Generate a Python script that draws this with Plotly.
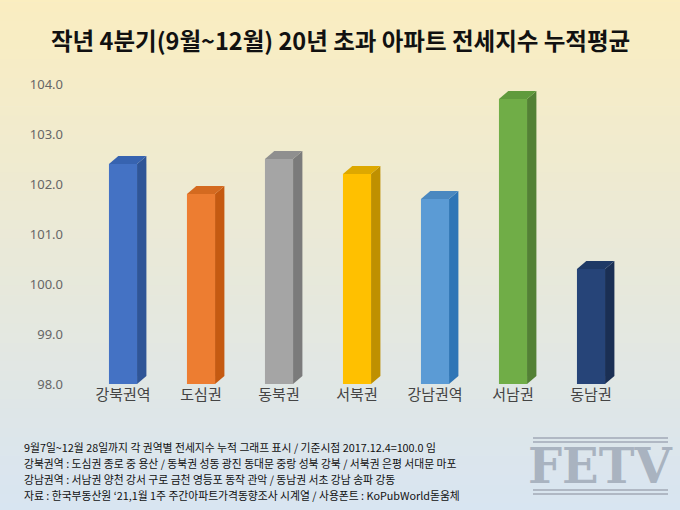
import plotly.graph_objects as go

categories = ["강북권역", "도심권", "동북권", "서북권", "강남권역", "서남권", "동남권"]
values = [102.4, 101.8, 102.5, 102.2, 101.7, 103.7, 100.3]
colors = ["#4472C4", "#ED7D31", "#A5A5A5", "#FFC000", "#5B9BD5", "#70AD47", "#264478"]
side_colors = ["#2F5597", "#C55A11", "#7B7B7B", "#BF9000", "#2E75B6", "#538135", "#1A2F54"]
top_colors = ["#3763B0", "#D46A20", "#8F8F8F", "#DDA800", "#4A88C0", "#5F9A3C", "#1F3A66"]
ytick_vals = [98, 99, 100, 101, 102, 103, 104]
base = 98.0
notes = [
    "9월7일~12월 28일까지 각 권역별 전세지수 누적 그래프 표시 / 기준시점 2017.12.4=100.0 임",
    "강북권역 : 도심권 종로 중 용산 / 동북권 성동 광진 동대문 중랑 성북 강북 / 서북권 은평 서대문 마포",
    "강남권역 : 서남권 양천 강서 구로 금천 영등포 동작 관악 / 동남권 서초 강남 송파 강동",
    "자료 : 한국부동산원 ‘21,1월 1주 주간아파트가격동향조사 시계열 / 사용폰트 : KoPubWorld돋움체",
]

hw, dx, dy = 0.18, 0.12, 0.16
fig = go.Figure()
for i, (v, c, sc, tc) in enumerate(zip(values, colors, side_colors, top_colors)):
    fig.add_trace(go.Scatter(x=[i + hw, i + hw + dx, i + hw + dx, i + hw, i + hw],
                             y=[base, base + dy, v + dy, v, base], fill="toself",
                             fillcolor=sc, line=dict(width=0), mode="lines", hoverinfo="skip"))
    fig.add_trace(go.Scatter(x=[i - hw, i + hw, i + hw + dx, i - hw + dx, i - hw],
                             y=[v, v, v + dy, v + dy, v], fill="toself",
                             fillcolor=tc, line=dict(width=0), mode="lines", hoverinfo="skip"))
    fig.add_trace(go.Scatter(x=[i - hw, i + hw, i + hw, i - hw, i - hw],
                             y=[base, base, v, v, base], fill="toself",
                             fillcolor=c, line=dict(width=0), mode="lines", hoverinfo="skip"))

shapes = []
n = 60
def mix(a, b, t):
    return "rgb(%d,%d,%d)" % tuple(round(a[k] + (b[k] - a[k]) * t) for k in range(3))
topc, botc = (252, 238, 190), (214, 228, 244)
for k in range(n):
    shapes.append(dict(type="rect", xref="paper", yref="paper", layer="below",
                       x0=-0.3, x1=1.3, y0=1.3 - (k + 1) * 1.8 / n, y1=1.3 - k * 1.8 / n + 0.002,
                       fillcolor=mix(topc, botc, k / (n - 1)), line=dict(width=0)))
for yy in [438, 442, 490, 494]:
    shapes.append(dict(type="line", xref="paper", yref="paper", x0=(533 - 84) / 546, x1=(668 - 84) / 546,
                       y0=(384 - yy) / 315, y1=(384 - yy) / 315, line=dict(color="#B0B8C4", width=2)))

ann = [dict(text="작년 4분기(9월~12월) 20년 초과 아파트 전세지수 누적평균", xref="paper", yref="paper",
            x=(340 - 84) / 546, y=(384 - 40) / 315, xanchor="center", yanchor="middle", showarrow=False,
            font=dict(size=23.5, color="#111", family="Noto Sans CJK KR", weight="bold"))]
for j, t in enumerate(notes):
    ann.append(dict(text=t, xref="paper", yref="paper", x=(22 - 84) / 546, y=(384 - (447 + j * 16)) / 315,
                    xanchor="left", yanchor="middle", showarrow=False,
                    font=dict(size=10.8, color="#111", family="Noto Sans CJK KR")))
ann.append(dict(text="FETV", xref="paper", yref="paper", x=(600 - 84) / 546, y=(384 - 466) / 315,
                xanchor="center", yanchor="middle", showarrow=False,
                font=dict(size=48, color="#A9B3C0", family="DejaVu Serif", weight="bold")))

fig.update_layout(
    width=680, height=510, margin=dict(l=84, r=50, t=69, b=126),
    paper_bgcolor="#e8ecea", plot_bgcolor="rgba(0,0,0,0)", showlegend=False,
    shapes=shapes, annotations=ann,
    xaxis=dict(range=[-0.5, 6.5], tickvals=list(range(7)), ticktext=categories, showgrid=False,
               zeroline=False, showline=False, ticks="", tickfont=dict(size=15, color="#444", family="Noto Sans CJK KR")),
    yaxis=dict(range=[98, 104.3], tickvals=ytick_vals, ticktext=[f"{t:.1f}" for t in ytick_vals],
               showgrid=False, zeroline=False, showline=False,
               tickfont=dict(size=13, color="#666", family="Noto Sans"), ticklabelstandoff=20),
)
fig.write_html("out.html", config={"displayModeBar": False},
               post_script="document.body.style.margin='0';document.body.style.overflow='hidden';")
